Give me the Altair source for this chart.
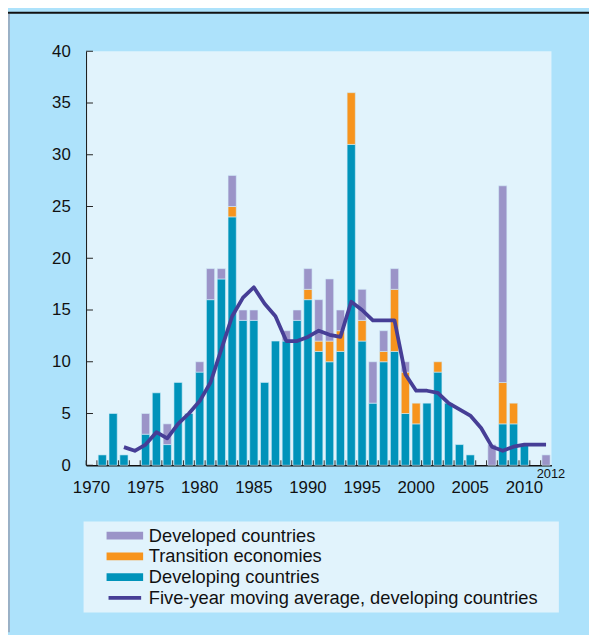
import altair as alt
import pandas as pd

# ---- data ----
years = list(range(1970, 2013))
developing = [0, 1, 5, 1, 0, 3, 7, 2, 8, 5,
              9, 16, 18, 24, 14, 14, 8, 12, 12, 14,
              16, 11, 10, 11, 31, 12, 6, 10, 11, 5,
              4, 6, 9, 6, 2, 1, 0, 0, 4, 4,
              2, 0, 0]
transition = [0, 0, 0, 0, 0, 0, 0, 0, 0, 0,
              0, 0, 0, 1, 0, 0, 0, 0, 0, 0,
              1, 1, 2, 2, 5, 2, 0, 1, 6, 4,
              2, 0, 1, 0, 0, 0, 0, 0, 4, 2,
              0, 0, 0]
developed = [0, 0, 0, 0, 0, 2, 0, 2, 0, 0,
             1, 3, 1, 3, 1, 1, 0, 0, 1, 1,
             2, 4, 6, 2, 0, 3, 4, 2, 2, 1,
             0, 0, 0, 0, 0, 0, 0, 2, 19, 0,
             0, 0, 1]
ma_years = list(range(1973, 2013))
ma_values = [1.75, 1.4, 2.0, 3.2, 2.6, 4.0, 5.0, 6.2, 8.0, 11.2,
             14.4, 16.2, 17.2, 15.6, 14.4, 12.0, 12.0, 12.4, 13.0, 12.6,
             12.4, 15.8, 15.0, 14.0, 14.0, 14.0, 8.8, 7.2, 7.2, 7.0,
             6.0, 5.4, 4.8, 3.6, 1.8, 1.4, 1.8, 2.0, 2.0, 2.0]
x_label_years = [1970, 1975, 1980, 1985, 1990, 1995, 2000, 2005, 2010]
y_tick_values = [0, 5, 10, 15, 20, 25, 30, 35, 40]
end_label = ["2012"]

S_DEV = "Developed countries"
S_TRA = "Transition economies"
S_DVG = "Developing countries"
S_MA = "Five-year moving average, developing countries"
series_names = [S_DEV, S_TRA, S_DVG, S_MA]
series_colors = ["#9B94C8", "#F7941D", "#0093BA", "#463E96"]

rows = []
for i, y in enumerate(years):
    for name, vals, o in [(S_DVG, developing, 0), (S_TRA, transition, 1), (S_DEV, developed, 2)]:
        if vals[i] > 0:
            rows.append({"year": y, "series": name, "value": vals[i], "ord": o})
bars_df = pd.DataFrame(rows)
ma_df = pd.DataFrame({"year": ma_years, "value": ma_values, "series": S_MA})
ticks_df = pd.DataFrame({"year": years})
yticks_df = pd.DataFrame({"v": y_tick_values})
end_df = pd.DataFrame({"year": [2012], "label": end_label})
deco_df = pd.DataFrame({"k": [0]})

W, H = 471, 419
FONT = "Liberation Sans"

xscale = alt.Scale(domain=years, paddingInner=0.24, paddingOuter=0.12)
yscale = alt.Scale(domain=[0, 40], nice=False)
cscale = alt.Scale(domain=series_names, range=series_colors)

bar_path = "M-3.7,-0.8H3.7V0.8H-3.7Z"
line_path = "M-3.3,-0.37H3.3V0.37H-3.3Z"
sym_expr = f"datum.value == '{S_MA}' ? '{line_path}' : '{bar_path}'"

bars = alt.Chart(bars_df).mark_bar(stroke="#D3EEFA", strokeWidth=0.6).encode(
    x=alt.X("year:O", scale=xscale, title=None,
            axis=alt.Axis(values=x_label_years, labelAngle=0, tickSize=0,
                          labelPadding=15, domainWidth=1.5)),
    y=alt.Y("value:Q", stack="zero", scale=yscale, title=None,
            axis=alt.Axis(values=y_tick_values, tickSize=0, labelPadding=16)),
    color=alt.Color("series:N", scale=cscale,
                    legend=alt.Legend(title="xx", titleOrient="right", titleOpacity=0,
                                      titleFontSize=12, titlePadding=2,
                                      orient="none", legendX=-2.5, legendY=476,
                                      fillColor="#E1F3FC", padding=5,
                                      symbolType=alt.ExprRef(expr=sym_expr),
                                      symbolSize=100, symbolOffset=27.5, labelOffset=15,
                                      symbolStrokeWidth=0,
                                      labelFont=FONT, labelFontSize=18.5, labelColor="#111",
                                      rowPadding=2, labelLimit=700)),
    order=alt.Order("ord:Q", sort="ascending"),
)

xticks = alt.Chart(ticks_df).mark_rule(color="#333", strokeWidth=1, xOffset=-1.3).encode(
    x=alt.X("year:O", bandPosition=0),
    y=alt.value(H - 5), y2=alt.value(H),
)

yticks = alt.Chart(yticks_df).mark_rule(color="#222", strokeWidth=1).encode(
    y=alt.Y("v:Q"),
    x=alt.value(0), x2=alt.value(7),
)

line = alt.Chart(ma_df).mark_line(strokeWidth=3.8, strokeJoin="round").encode(
    x="year:O",
    y="value:Q",
    color=alt.Color("series:N", scale=cscale),
)

endtxt = alt.Chart(end_df).mark_text(font=FONT, fontSize=13, color="#111", baseline="middle", dx=5).encode(
    x="year:O",
    y=alt.value(H + 9),
    text="label:N",
)

top_line = alt.Chart(deco_df).mark_rule(color="#111", strokeWidth=2).encode(
    x=alt.value(-79), x2=alt.value(W + 40), y=alt.value(-39),
)
left_strip = alt.Chart(deco_df).mark_rect(color="#9AB0C6").encode(
    x=alt.value(-79), x2=alt.value(-77), y=alt.value(-38), y2=alt.value(H + 169),
)

chart = alt.layer(left_strip, top_line, bars, xticks, yticks, line, endtxt).properties(
    width=W, height=H,
    autosize=alt.AutoSizeParams(type="none"),
    padding={"left": 79, "top": 40, "right": 38, "bottom": 168},
    background="#ADE2FB",
).configure_view(
    fill="#E1F3FC", stroke=None,
).configure_axis(
    labelFont=FONT, labelFontSize=17, labelColor="#111", domainColor="#111",
    grid=False, ticks=False,
)

chart.save("out.html", embed_options={"renderer": "svg", "actions": False})
